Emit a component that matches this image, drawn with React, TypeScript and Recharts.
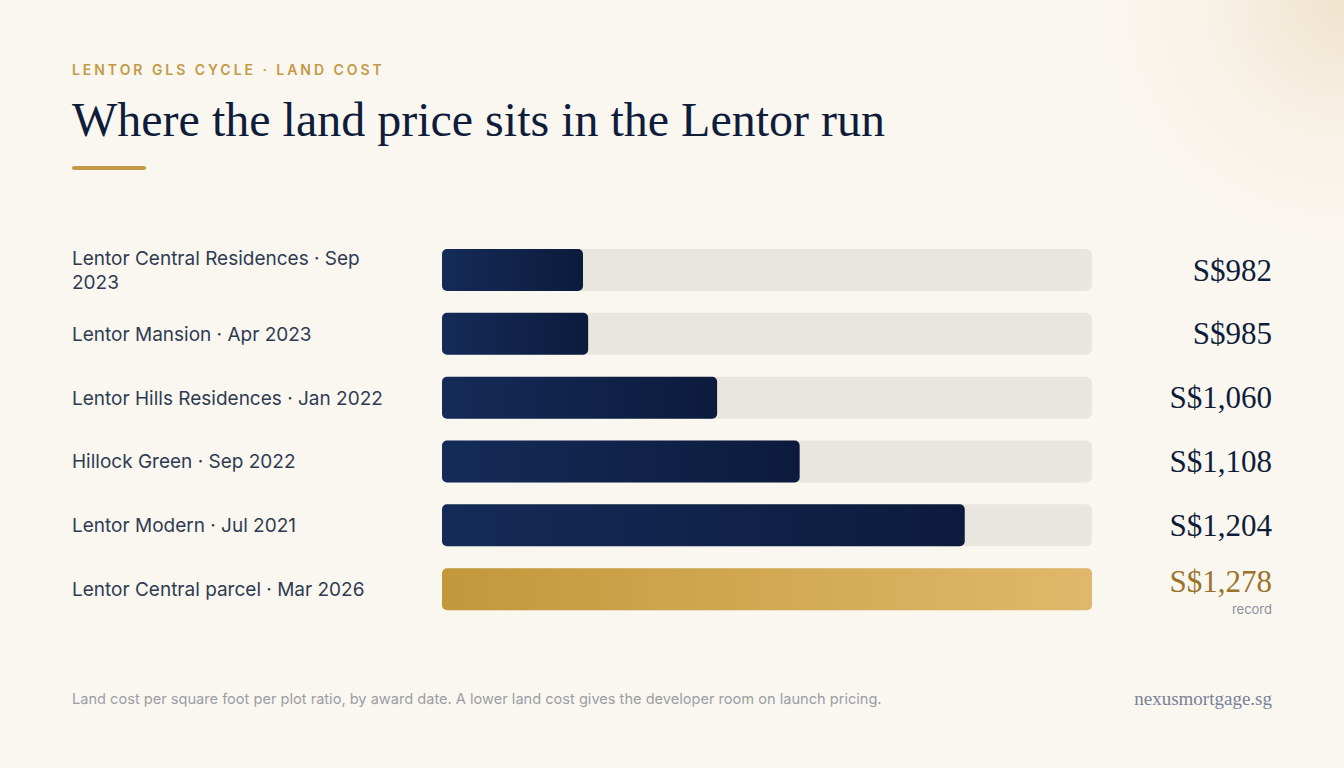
import React from "react";
import { BarChart, Bar, XAxis, YAxis, Cell, LabelList } from "recharts";

const W = 1344;
const H = 768;

const PROJECTS = [
  "Lentor Central Residences · Sep 2023",
  "Lentor Mansion · Apr 2023",
  "Lentor Hills Residences · Jan 2022",
  "Hillock Green · Sep 2022",
  "Lentor Modern · Jul 2021",
  "Lentor Central parcel · Mar 2026",
];
const PSF_PPR = [982, 985, 1060, 1108, 1204, 1278];
const IS_RECORD = [false, false, false, false, false, true];

const NAVY = "#0f1d3a";
const GOLD = "#c39a45";
const SANS = "Inter, 'Noto Sans', sans-serif";
const SERIF = "'Liberation Serif', 'DejaVu Serif', serif";

const data = PROJECTS.map((name, i) => ({
  name,
  value: PSF_PPR[i],
  record: IS_RECORD[i],
}));

// the label column is ~340px wide, long names wrap their last word
function wrapLabel(s: string): string[] {
  if (s.length <= 35) return [s];
  const cut = s.lastIndexOf(" ");
  return [s.slice(0, cut), s.slice(cut + 1)];
}

function ProjectTick(props: any) {
  const { y, payload } = props;
  const lines = wrapLabel(payload.value);
  const lh = 24;
  const top = y - ((lines.length - 1) * lh) / 2;
  return (
    <text
      x={72}
      y={top}
      textAnchor="start"
      dominantBaseline="central"
      fontFamily={SANS}
      fontSize={19}
      fill="#2f3b52"
    >
      {lines.map((l, i) => (
        <tspan key={i} x={72} y={top + i * lh}>
          {l}
        </tspan>
      ))}
    </text>
  );
}

function ValueLabel(props: any) {
  const { y, height, value, index } = props;
  const cy = y + height / 2;
  const rec = IS_RECORD[index];
  const text = `S$${value.toLocaleString("en-US")}`;
  return (
    <g>
      <text
        x={W - 72}
        y={rec ? cy - 8 : cy}
        textAnchor="end"
        dominantBaseline="central"
        fontFamily={SERIF}
        fontSize={31}
        fill={rec ? "#9a7328" : NAVY}
      >
        {text}
      </text>
      {rec && (
        <text
          x={W - 72}
          y={cy + 20}
          textAnchor="end"
          dominantBaseline="central"
          fontFamily={SANS}
          fontSize={13}
          fill="#8b909b"
        >
          record
        </text>
      )}
    </g>
  );
}

export default function App() {
  return (
    <div
      style={{
        position: "relative",
        width: W,
        height: H,
        overflow: "hidden",
        background:
          "radial-gradient(circle at 100% 0%, rgba(238,224,198,0.85) 0px, rgba(245,236,220,0.4) 150px, rgba(250,247,241,0) 260px), #faf7f1",
      }}
    >
      <style>{"body{margin:0}"}</style>

      <div
        style={{
          position: "absolute",
          left: 72,
          top: 60,
          fontFamily: SANS,
          fontSize: 14,
          fontWeight: 600,
          letterSpacing: 2.95,
          color: GOLD,
          lineHeight: "20px",
        }}
      >
        LENTOR GLS CYCLE · LAND COST
      </div>
      <div
        style={{
          position: "absolute",
          left: 72,
          top: 88,
          fontFamily: SERIF,
          fontSize: 48,
          color: NAVY,
          lineHeight: "64px",
        }}
      >
        Where the land price sits in the Lentor run
      </div>
      <div
        style={{
          position: "absolute",
          left: 72,
          top: 166,
          width: 74,
          height: 4,
          borderRadius: 2,
          background: GOLD,
        }}
      />

      <div style={{ position: "absolute", left: 0, top: 0 }}>
        <BarChart
          width={W}
          height={H}
          data={data}
          layout="vertical"
          margin={{ top: 238, right: 252, bottom: 147, left: 72 }}
          barCategoryGap={0}
        >
          <defs>
            <linearGradient id="navyFill" x1="0" y1="0" x2="1" y2="0">
              <stop offset="0%" stopColor="#142b58" />
              <stop offset="100%" stopColor="#0c1b3c" />
            </linearGradient>
            <linearGradient id="goldFill" x1="0" y1="0" x2="1" y2="0">
              <stop offset="0%" stopColor="#c3983b" />
              <stop offset="100%" stopColor="#e0b86b" />
            </linearGradient>
          </defs>
          <XAxis type="number" domain={[900, 1278]} hide allowDataOverflow />
          <YAxis
            type="category"
            dataKey="name"
            width={370}
            axisLine={false}
            tickLine={false}
            tick={<ProjectTick />}
            interval={0}
          />
          <Bar
            dataKey="value"
            barSize={42}
            radius={5}
            background={{ fill: "#e9e6e0", radius: 6 }}
            isAnimationActive={false}
          >
            {data.map((d, i) => (
              <Cell key={i} fill={d.record ? "url(#goldFill)" : "url(#navyFill)"} />
            ))}
            <LabelList dataKey="value" content={<ValueLabel />} />
          </Bar>
        </BarChart>
      </div>

      <div
        style={{
          position: "absolute",
          left: 72,
          top: 689,
          fontFamily: SANS,
          fontSize: 14.6,
          color: "#9a9da4",
          lineHeight: "20px",
        }}
      >
        Land cost per square foot per plot ratio, by award date. A lower land cost gives the developer room on launch pricing.
      </div>
      <div
        style={{
          position: "absolute",
          right: 72,
          top: 687,
          fontFamily: SERIF,
          fontSize: 19,
          color: "#7a8196",
          lineHeight: "24px",
        }}
      >
        nexusmortgage.sg
      </div>
    </div>
  );
}
